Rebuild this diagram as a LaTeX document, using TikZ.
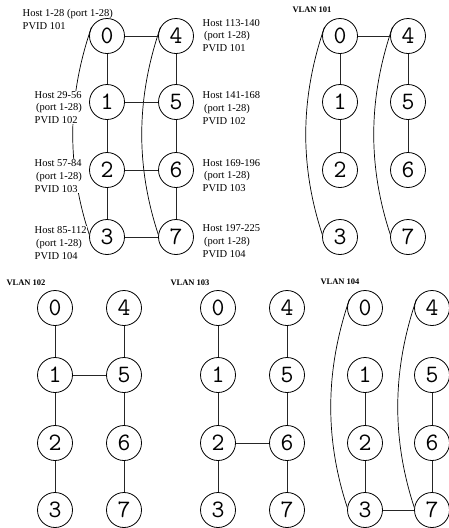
\documentclass[tikz,border=0pt]{standalone}
\usepackage{fontspec}
\setmainfont{Liberation Serif}
\newcommand\mkpanel[7]{%
  \node[sw] (#1n0) at (#2,#4) {0};
  \node[sw] (#1n1) at (#2,#5) {1};
  \node[sw] (#1n2) at (#2,#6) {2};
  \node[sw] (#1n3) at (#2,#7) {3};
  \node[sw] (#1n4) at (#3,#4) {4};
  \node[sw] (#1n5) at (#3,#5) {5};
  \node[sw] (#1n6) at (#3,#6) {6};
  \node[sw] (#1n7) at (#3,#7) {7};}
\newcommand\bigarc[2]{\draw[arcl] (#1.150) .. controls +(-24,70) and +(-23,-70) .. (#2.172);}
\newcommand\lk[2]{\draw[ln] (#1) -- (#2);}
\begin{document}
\begin{tikzpicture}[x=1pt,y=-1pt,
  sw/.style={circle,draw,line width=0.8pt,minimum size=35pt,inner sep=0pt,
    font=\ttfamily\fontsize{25}{25}\selectfont},
  ln/.style={line width=0.8pt,black!85},
  arcl/.style={line width=0.7pt},
  host/.style={align=left,anchor=west,fill=white,inner sep=0.5pt,
    font=\fontsize{10.5}{12.8}\selectfont},
  vlan/.style={inner sep=0pt,font=\bfseries\fontsize{8.5}{10}\selectfont}]
\useasboundingbox (0,0) rectangle (449,528);
% nodes
\mkpanel{a}{107}{176}{36}{102}{170}{237}
\mkpanel{b}{340}{408}{36}{102}{170}{237}
\mkpanel{c}{55}{124}{308}{375}{443}{510}
\mkpanel{d}{218}{287}{308}{375}{443}{510}
\mkpanel{e}{365}{432}{308}{375}{443}{510}
% arcs
\bigarc{an0}{an3}
\bigarc{an4}{an7}
\bigarc{bn0}{bn3}
\bigarc{bn4}{bn7}
\bigarc{en0}{en3}
\bigarc{en4}{en7}
% host labels (white fill hides arc)
\node[host,fill=none] (h0) at (22,19.5) {Host 1-28 (port 1-28)\\PVID 101};
\node[host] (h1) at (34,107.5) {Host 29-56\\\hspace{1.5pt}(port 1-28)\\PVID 102};
\node[host] (h2) at (34,176) {Host 57-84\\\hspace{1.5pt}(port 1-28)\\PVID 103};
\node[host] (h3) at (34,243) {Host 85-112\\\hspace{1.5pt}(port 1-28)\\PVID 104};
\node[host] (h4) at (202,35.5) {Host 113-140\\\hspace{1.5pt}(port 1-28)\\PVID 101};
\node[host] (h5) at (202,108) {Host 141-168\\\hspace{1.5pt}(port 1-28)\\PVID 102};
\node[host] (h6) at (202,175.5) {Host 169-196\\\hspace{1.5pt}(port 1-28)\\PVID 103};
\node[host] (h7) at (202,241) {Host 197-225\\\hspace{1.5pt}(port 1-28)\\PVID 104};
% vlan titles
\node[vlan] (v101) at (312,10) {VLAN 101};
\node[vlan] (v102) at (26,283) {VLAN 102};
\node[vlan] (v103) at (190,283) {VLAN 103};
\node[vlan] (v104) at (340,282) {VLAN 104};
% links panel a
\lk{an0}{an4}\lk{an0}{an1}\lk{an1}{an2}\lk{an2}{an3}
\lk{an4}{an5}\lk{an5}{an6}\lk{an6}{an7}
\lk{an1}{an5}\lk{an2}{an6}\lk{an3}{an7}
% panel b
\lk{bn0}{bn4}\lk{bn0}{bn1}\lk{bn1}{bn2}\lk{bn4}{bn5}\lk{bn5}{bn6}
% panel c
\lk{cn0}{cn1}\lk{cn1}{cn2}\lk{cn2}{cn3}\lk{cn4}{cn5}\lk{cn5}{cn6}\lk{cn6}{cn7}\lk{cn1}{cn5}
% panel d
\lk{dn0}{dn1}\lk{dn1}{dn2}\lk{dn2}{dn3}\lk{dn4}{dn5}\lk{dn5}{dn6}\lk{dn6}{dn7}\lk{dn2}{dn6}
% panel e
\lk{en1}{en2}\lk{en2}{en3}\lk{en5}{en6}\lk{en6}{en7}\lk{en3}{en7}
\end{tikzpicture}
\end{document}
